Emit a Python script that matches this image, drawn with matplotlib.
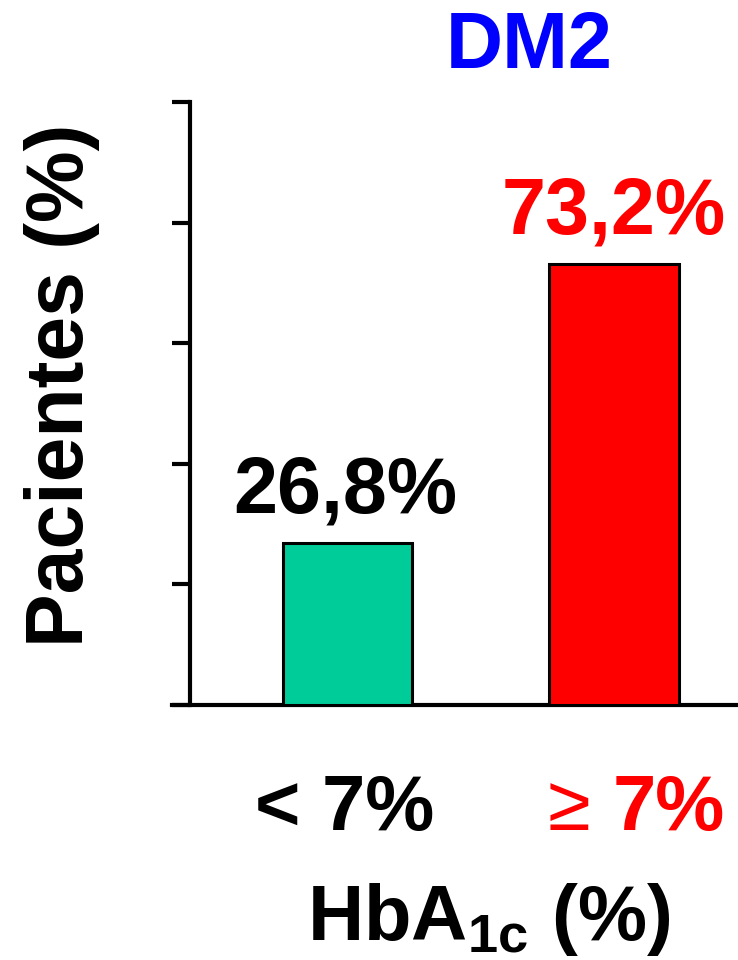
import matplotlib
matplotlib.use('Agg')
import matplotlib.pyplot as plt

plt.rcParams['font.family'] = ['Liberation Sans', 'DejaVu Sans']
plt.rcParams['font.weight'] = 'bold'
plt.rcParams['mathtext.fontset'] = 'custom'
plt.rcParams['mathtext.rm'] = 'Liberation Sans:bold'
plt.rcParams['mathtext.bf'] = 'Liberation Sans:bold'

# datos: porcentaje de pacientes DM2 segun HbA1c
grupos = ['< 7%', '7%']
valores = [26.8, 73.2]
etiquetas = ['26,8%', '73,2%']
colores = ['#00CC99', '#FF0000']
colores_texto = ['black', '#FF0000']
yticks = [0, 20, 40, 60, 80, 100]

fig = plt.figure(figsize=(7.38, 9.6), dpi=100)
ax = fig.add_axes([172 / 738, 1 - 705 / 960, 1 - 172 / 738, 603 / 960])

x = [0, 1]
ax.bar(x, valores, width=0.485, color=colores, edgecolor='black', linewidth=2.2, zorder=3)

for xi, v, et, c in zip(x, valores, etiquetas, colores_texto):
    ax.annotate(et, (xi, v), xytext=(-2 if xi == 0 else 0, 22), textcoords='offset points',
                ha='center', va='baseline', fontsize=57, fontweight='bold', color=c)

ax.set_xlim(-0.659, 1.465)
ax.set_ylim(0, 100)
ax.set_yticks(yticks)
ax.set_yticklabels([])
ax.set_xticks([])

for s in ['top', 'right']:
    ax.spines[s].set_visible(False)
ax.spines['left'].set_position(('data', -0.591))
ax.spines['left'].set_linewidth(3)
ax.spines['bottom'].set_linewidth(3)
ax.tick_params(axis='y', direction='out', length=13, width=3)

# etiquetas de categoria debajo de las barras
fig.text(255 / 738, 1 - 830 / 960, '< 7%', ha='left', va='baseline', fontsize=56,
         fontweight='bold', color='black')
fig.text(548 / 738, 1 - 830 / 960, '\u2265', ha='left', va='baseline', fontsize=56,
         fontweight='normal', color='#FF0000')
fig.text(613 / 738, 1 - 830 / 960, '7%', ha='left', va='baseline', fontsize=56,
         fontweight='bold', color='#FF0000')

fig.text(489 / 738, 1 - 940 / 960, r'HbA$_{\mathbf{1c}}$ (%)', ha='center', va='baseline',
         fontsize=56, fontweight='bold')
fig.text(529 / 738, 1 - 68 / 960, 'DM2', ha='center', va='baseline', fontsize=57,
         fontweight='bold', color='#0000FF')
fig.text(62 / 738, 1 - 385 / 960, 'Pacientes (%)', ha='center', va='center', rotation=90,
         fontsize=58, fontweight='bold', rotation_mode='anchor')

fig.savefig('out.png', dpi=100)
